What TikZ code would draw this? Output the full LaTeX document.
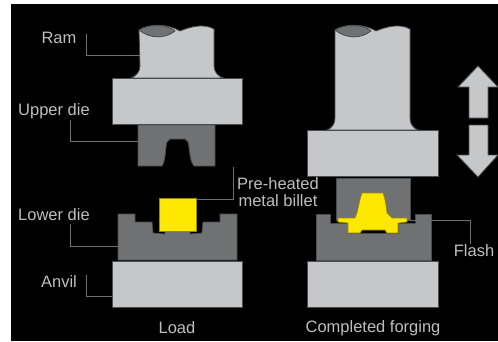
\documentclass[tikz,border=0pt]{standalone}
\usepackage{fontspec}
\setmainfont{Liberation Sans}
\usetikzlibrary{positioning, calc}
\definecolor{cSteel}{RGB}{198,199,201}
\definecolor{cDie}{RGB}{112,113,115}
\definecolor{cEdge}{RGB}{75,76,78}
\definecolor{cBillet}{RGB}{255,232,0}
\definecolor{cText}{RGB}{190,190,190}

\begin{document}
\begin{tikzpicture}[x=1pt, y=-1pt, thick,
                    block/.style={fill=cSteel, draw=cEdge, line width=0.8pt},
                    die/.style={fill=cDie, draw=cEdge, line width=0.8pt},
                    billet/.style={fill=cBillet, draw=cBillet!60!black, line width=0.6pt},
                    leader/.style={draw=cEdge!80!white, line width=0.8pt},
                    lbl/.style={text=cText, font=\fontsize{16.5}{17}\selectfont, inner sep=0pt, align=center}]
    \useasboundingbox (0,0) rectangle (498,341);
    \fill[white] (0,0) rectangle (498,341);
    \fill[black] (11,4) rectangle (498,341);

    % Load side
    \draw[block] (139,30) .. controls (150,23) and (168,24) .. (180,31)
        .. controls (190,27) and (203,23) .. (214,29) -- (214,66)
        .. controls (214,72) and (218,76) .. (223,78) -- (131,78)
        .. controls (136,76) and (140,72) .. (140,66) -- cycle;
    \draw[die] (139,30) .. controls (148,24) and (168,24) .. (175,31)
        .. controls (165,39) and (150,39) .. (139,30) -- cycle;
    \node[block, minimum width=130pt, minimum height=46pt, inner sep=0pt] (blockL) at (177,101) {};
    \draw[die] (138,125) -- (215,125) -- (215,166) -- (194,166)
        .. controls (189,160) and (190,148) .. (188,142) -- (185,139)
        -- (170,139) -- (167,142) .. controls (165,148) and (166,160) .. (162,166)
        -- (138,166) -- cycle;
    \draw[die] (118,214) -- (135,214) -- (135,222) -- (152,222) -- (153,233) -- (165,234)
        -- (165,231) -- (190,231) -- (190,234) -- (202,233) -- (203,222) -- (220,222) -- (220,214)
        -- (237,214) -- (237,260) -- (118,260) -- cycle;
    \node[billet, minimum width=37pt, minimum height=33pt, inner sep=0pt] (billetL) at (177.5,214.5) {};
    \node[block, minimum width=130pt, minimum height=46pt, inner sep=0pt] (anvilL) at (177,284) {};

    % Forging side
    \draw[block] (335,30) .. controls (346,23) and (364,24) .. (376,31)
        .. controls (386,27) and (399,23) .. (410,29) -- (410,118)
        .. controls (410,124) and (413,128) .. (418,130) -- (327,130)
        .. controls (332,128) and (335,124) .. (335,118) -- cycle;
    \draw[die] (335,30) .. controls (344,24) and (364,24) .. (371,31)
        .. controls (361,39) and (346,39) .. (335,30) -- cycle;
    \node[block, minimum width=131pt, minimum height=46pt, inner sep=0pt] (blockR) at (372.5,153) {};
    \draw[die] (316,214) -- (330,214) -- (330,223) -- (348,223) -- (348,233) -- (398,233) -- (398,223)
        -- (415,223) -- (415,214) -- (431,214) -- (431,260) -- (316,260) -- cycle;
    \draw[die] (336,178) -- (410,178) -- (410,220) -- (336,220) -- cycle;
    \draw[billet] (338,218) -- (355,218) -- (357,213) .. controls (359,205) and (360,198) .. (362,193)
        -- (383,193) .. controls (385,198) and (386,205) .. (387,213) -- (392,218) -- (407,218)
        -- (407,222) -- (398,223) -- (398,233) -- (387,233) -- (385,230) -- (362,230) -- (360,233)
        -- (348,233) -- (348,223) -- (338,222) -- cycle;
    \node[block, minimum width=131pt, minimum height=46pt, inner sep=0pt] (anvilR) at (372.5,284) {};

    % Arrows
    \draw[block] (478,66) -- (498,87) -- (488,87) -- (488,118) -- (469,118) -- (469,87) -- (458,87) -- cycle;
    \draw[block] (469,125) -- (488,125) -- (488,155) -- (498,155) -- (478,177) -- (457,155) -- (469,155) -- cycle;

    % Labels
    \node[lbl] (ram) at (59,38) {Ram};
    \node[lbl] (upper) at (54,111) {Upper die};
    \node[lbl] (lower) at (54,215) {Lower die};
    \node[lbl] (anvil) at (59,282) {Anvil};
    \node[lbl] (load) at (177,328) {Load};
    \node[lbl] (done) at (373,328) {Completed forging};
    \node[lbl] (heated) at (278,192) {Pre-heated\\metal billet};
    \node[lbl] (flash) at (474,251) {Flash};

    % Leaders
    \coordinate (ramTop) at (86,34);
    \coordinate (upperTop) at (70,120);
    \coordinate (lowerTop) at (70,224);
    \coordinate (anvilTop) at (86,275);
    \coordinate (heatedTop) at (233,167);
    \coordinate (flashEnd) at (470,244);
    \coordinate (flashTip) at (410,220);
    \draw[leader] (ramTop) |- (140,55);
    \draw[leader] (upperTop) |- (138,141);
    \draw[leader] (lowerTop) |- (118,246);
    \draw[leader] (anvilTop) |- (anvilL.west |- 0,296);
    \draw[leader] (heatedTop) |- (billetL.east |- 0,199);
    \draw[leader] (flashEnd) |- (flashTip);
\end{tikzpicture}
\end{document}
